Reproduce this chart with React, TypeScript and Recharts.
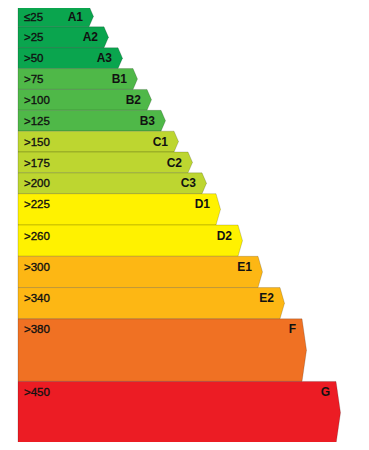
import { ComposedChart, XAxis, YAxis, ReferenceArea, Line } from "recharts"

// energy classes, top to bottom
const classes = ["A1", "A2", "A3", "B1", "B2", "B3", "C1", "C2", "C3", "D1", "D2", "E1", "E2", "F", "G"]
const thresholds = ["≤25", ">25", ">50", ">75", ">100", ">125", ">150", ">175", ">200", ">225", ">260", ">300", ">340", ">380", ">450"]
// arrow length (body, without the tip)
const barLengths = [71, 86, 100, 115, 129, 143, 156, 170, 184, 198, 220, 240, 262, 284, 318]
// relative row thickness
const rowHeights = [1, 1, 1, 1, 1, 1, 1, 1, 1, 1.5, 1.5, 1.5, 1.5, 3, 3]
const colors = [
    "#0aa54e", "#0aa54e", "#0aa54e",
    "#4fb848", "#4fb848", "#4fb848",
    "#bdd630", "#bdd630", "#bdd630",
    "#fff200", "#fff200",
    "#fdb714", "#fdb714",
    "#f07123",
    "#ec1c24",
]

let acc = 0
const rows = classes.map((name, i) => {
    const top = acc
    acc += rowHeights[i]
    return { name, label: thresholds[i], length: barLengths[i], top, bottom: acc, color: colors[i] }
})
const totalHeight = acc

const Arrow = ({ x, y, width, height, row }: any) => {
    const tip = 4.5
    const right = x + width
    const d = `M${x},${y} L${right},${y} L${right + tip},${y + height / 2} L${right},${y + height} L${x},${y + height} Z`
    return (
        <g>
            <path d={d} fill={row.color} stroke="rgba(0,0,0,0.22)" strokeWidth={0.8} />
            <text x={x + 6} y={y + 10.5} dominantBaseline="central" fontSize={11.5} fontFamily="Liberation Sans, Arial, sans-serif" fill="#111" stroke="#111" strokeWidth={0.35}>
                {row.label}
            </text>
            <text x={right - 6} y={y + 10.5} dominantBaseline="central" textAnchor="end" fontSize={12} fontWeight={700} fontFamily="Liberation Sans, Arial, sans-serif" fill="#111">
                {row.name}
            </text>
        </g>
    )
}

export default function App() {
    return (
        <div style={{ margin: -8, width: 369, height: 450, background: "#fff" }}>
            <ComposedChart width={369} height={450} data={rows} margin={{ top: 6, right: 11, left: 18, bottom: 6 }}>
                <XAxis type="number" dataKey="length" domain={[0, 340]} allowDataOverflow hide />
                <YAxis type="number" domain={[0, totalHeight]} allowDataOverflow reversed hide />
                <Line dataKey="top" stroke="none" dot={false} activeDot={false} isAnimationActive={false} />
                {rows.map((row) => (
                    <ReferenceArea
                        key={row.name}
                        x1={0}
                        x2={row.length}
                        y1={row.top}
                        y2={row.bottom}
                        fill={row.color}
                        ifOverflow="visible"
                        shape={(p: any) => <Arrow {...p} row={row} />}
                    />
                ))}
            </ComposedChart>
        </div>
    )
}
